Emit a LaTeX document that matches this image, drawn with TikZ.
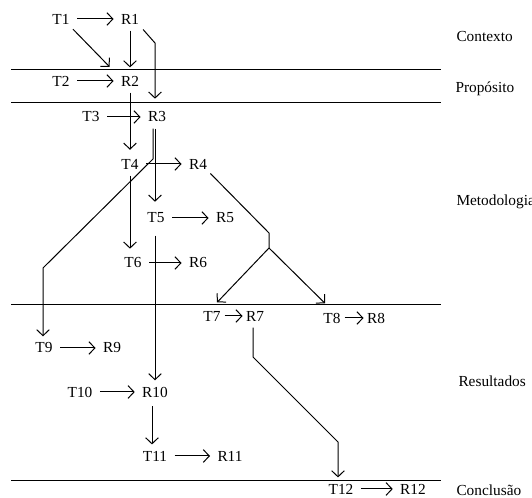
\documentclass[tikz,border=0pt]{standalone}
\usepackage{fontspec}
\setmainfont{Liberation Serif}
\usetikzlibrary{arrows.meta}
\begin{document}
\begin{tikzpicture}[x=0.75pt,y=-0.75pt,
  font=\fontsize{11.5}{13}\selectfont,
  every path/.style={line width=0.75pt},
  term/.style={inner xsep=5.25pt,inner ysep=4.5pt},
  seclabel/.style={anchor=base west,inner sep=0pt},
  arr/.style={-{Straight Barb[length=4.5pt,width=9.5pt]},line join=miter},
  rule/.style={line width=0.75pt}]
\useasboundingbox (0,0) rectangle (532,498);
% section rules
\draw[rule] (11,70) -- (441,70);
\draw[rule] (11,103) -- (441,103);
\draw[rule] (11,305) -- (441,305);
\draw[rule] (11,481) -- (441,481);
% section labels
\node[seclabel] (lc) at (456,42) {Contexto};
\node[seclabel] (lp) at (455,93) {Propósito};
\node[seclabel] (lm) at (456,206) {Metodologia};
\node[seclabel] (lr) at (458,387) {Resultados};
\node[seclabel] (lk) at (456,496) {Conclusão};
% terms
\node[term] (T1) at (61,19) {T1};   \node[term] (R1) at (130,19) {R1};
\node[term] (T2) at (61,81) {T2};   \node[term] (R2) at (130,81) {R2};
\node[term] (T3) at (91,117) {T3};  \node[term] (R3) at (157,117) {R3};
\node[term] (T4) at (130,164) {T4}; \node[term] (R4) at (198,164) {R4};
\node[term] (T5) at (156,218) {T5}; \node[term] (R5) at (225,218) {R5};
\node[term] (T6) at (133,263) {T6}; \node[term] (R6) at (198,263) {R6};
\node[term] (T7) at (212,316) {T7}; \node[term] (R7) at (255,316) {R7};
\node[term] (T8) at (332,318) {T8}; \node[term] (R8) at (376,318) {R8};
\node[term] (T9) at (44,348) {T9};  \node[term] (R9) at (112,348) {R9};
\node[term] (T10) at (80,392) {T10}; \node[term] (R10) at (155,392) {R10};
\node[term] (T11) at (155,456) {T11}; \node[term] (R11) at (230,456) {R11};
\node[term] (T12) at (341,489) {T12}; \node[term] (R12) at (413,489) {R12};
% bend points
\coordinate (b1) at (155,43);
\coordinate (b2) at (153,159);
\coordinate (b3) at (43,268);
\coordinate (b4) at (269,233);
\coordinate (b5) at (269,248);
\coordinate (b6) at (253,357);
\coordinate (b7) at (338,442);
% horizontal arrows
\draw[arr] (T1) -- (R1);
\draw[arr] (T2) -- (R2);
\draw[arr] (T3) -- (R3);
\draw[arr] (T4) -- (R4);
\draw[arr] (T5) -- (R5);
\draw[arr] (T6) -- (R6);
\draw[arr,shorten <=-2.5pt,shorten >=-3pt] (T7) -- (R7);
\draw[arr,shorten <=-2.5pt,shorten >=-3pt] (T8) -- (R8);
\draw[arr] (T9) -- (R9);
\draw[arr] (T10) -- (R10);
\draw[arr] (T11) -- (R11);
\draw[arr] (T12) -- (R12);
% other connectors
\draw[arr] ([xshift=-3pt,yshift=1pt]T1.south east) -- ([xshift=-3pt,yshift=2pt]R2.north west);
\draw[arr] (R1.south) -- ([yshift=1.5pt]R1.south |- R2.north);
\draw[arr] ([xshift=-2.5pt,yshift=0.75pt]R1.south east) -- (b1) -- ([yshift=5pt]b1 |- R3.north);
\draw[arr] (R2.south) -- ([yshift=2pt]R2.south |- T4.north);
\draw[arr] ([xshift=-1.5pt]R3.south) -- ([xshift=-1.5pt,yshift=3.5pt]R3.south |- T5.north);
\draw[arr] ([xshift=-3pt]R3.south) -- (b2) -- (b3) -- (b3 |- T9.north);
\draw[arr] (T4.south) -- ([yshift=2pt]T4.south |- T6.north);
\draw[arr] ([xshift=-3pt,yshift=1.5pt]R4.south east) -- (b4) -- (b5) -- ([xshift=3.75pt,yshift=1.5pt]T7.north);
\draw[arr] (b5) -- ([xshift=-5.25pt,yshift=2.25pt]T8.north);
\draw[arr] ([xshift=-0.75pt,yshift=-4.5pt]T5.south) -- ([xshift=-0.75pt]T5.south |- R10.north);
\draw[arr] ([xshift=-1.5pt]R7.south) -- (b6) -- (b7) -- (b7 |- T12.north);
\draw[arr] ([xshift=-2.25pt,yshift=-2pt]R10.south) -- ([xshift=-2.25pt]R10.south |- T11.north);
\end{tikzpicture}
\end{document}
